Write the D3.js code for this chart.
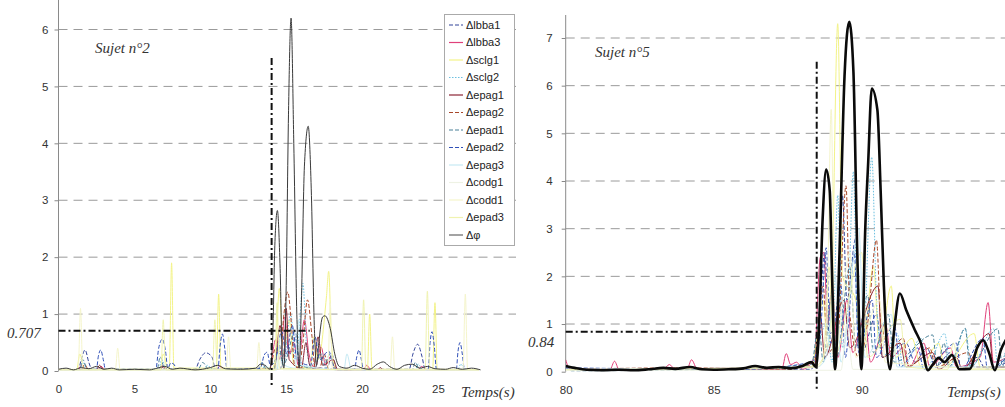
<!DOCTYPE html>
<html><head><meta charset="utf-8">
<script src="https://cdn.jsdelivr.net/npm/d3@7"></script>
<style>
html,body{margin:0;padding:0;background:#fff;}
svg{display:block;}
.tick-lbl{font-family:"Liberation Sans",Arial,sans-serif;font-size:11.5px;fill:#333;}
.ital{font-family:"Liberation Serif","Times New Roman",serif;font-style:italic;fill:#333;}
.leg{font-family:"Liberation Sans",Arial,sans-serif;font-size:11px;fill:#222;}
</style></head>
<body>
<script>
// ---------- series names ----------
const seriesNames = ["Δlbba1","Δlbba3","Δsclg1","Δsclg2","Δepag1","Δepag2","Δepad1","Δepad2","Δepag3","Δcodg1","Δcodd1","Δepad3","Δφ"];

// ---------- ticks ----------
const yTicksLeft = [0,1,2,3,4,5,6];
const yTicksRight = [0,1,2,3,4,5,6,7];
const xTicksLeft = [0,5,10,15,20,25];
const xTicksRight = [80,85,90];

// ---------- annotations (data values) ----------
const thresholdLeft = 0.707, thresholdLeftEnd = 16.55;
const thresholdRight = 0.84, thresholdRightEnd = 88.3;
const onsetLeft = 14.04, onsetLeftTop = 5.5;
const onsetRight = 88.48, onsetRightTop = 6.5;

// ---------- Sujet n°2 (left) : [time, value] ----------
const L_lbba1 = [[0,0.02],[1.3,0.03],[1.5,0.2],[1.75,0.37],[2.0,0.15],[2.2,0.03],[9.0,0.03],[9.3,0.2],[9.7,0.32],[10.1,0.25],[10.35,0.03],[14.6,0.03],[15.0,0.5],[15.3,0.3],[15.6,0.6],[15.9,0.05],[17.7,0.05],[18.0,0.3],[18.3,0.03],[23.1,0.03],[23.35,0.3],[23.66,0.47],[23.95,0.25],[24.15,0.03],[27.7,0.02]];
const L_lbba3 = [[0,0.02],[1.3,0.02],[1.5,0.1],[1.8,0.02],[2.6,0.02],[2.8,0.08],[3.1,0.02],[6.6,0.02],[6.8,0.1],[7.1,0.02],[10.4,0.02],[10.6,0.08],[11,0.02],[13.9,0.02],[14.3,0.55],[14.6,0.2],[14.9,0.95],[15.2,0.3],[15.5,0.5],[15.8,0.1],[16.2,0.9],[16.5,0.3],[16.9,0.05],[17.3,0.42],[17.6,0.1],[17.9,0.25],[18.3,0.02],[20.1,0.02],[20.3,0.1],[20.6,0.02],[23.7,0.02],[23.9,0.08],[24.3,0.02],[27.7,0.02]];
const L_sclg1 = [[0,0.02],[1.2,0.02],[1.4,0.3],[1.7,0.03],[6.7,0.03],[6.9,0.3],[7.2,0.05],[7.3,0.05],[7.45,1.9],[7.6,0.05],[10.4,0.05],[10.55,1.35],[10.7,0.05],[14.1,0.05],[14.3,0.3],[14.55,1.45],[14.8,0.3],[15.2,0.9],[15.5,0.1],[16.6,0.05],[16.8,0.6],[17.1,0.2],[17.65,1.3],[17.8,1.75],[18.0,0.4],[18.3,0.03],[20.35,0.03],[20.5,1.0],[20.65,0.03],[24.65,0.03],[24.8,1.2],[24.95,0.03],[27.7,0.02]];
const L_sclg2 = [[0,0.02],[1.4,0.02],[1.6,0.15],[1.9,0.02],[6.6,0.02],[6.8,0.2],[7.1,0.02],[9.6,0.02],[9.8,0.1],[10.2,0.02],[13.4,0.02],[13.6,0.1],[14.0,0.02],[14.2,0.02],[14.5,0.4],[14.8,0.1],[15.3,1.0],[15.6,0.2],[15.8,0.5],[16.1,1.54],[16.35,0.4],[16.6,0.1],[17.4,0.3],[17.7,0.03],[23.5,0.02],[23.7,0.12],[24,0.02],[26.3,0.02],[26.5,0.12],[26.8,0.02],[27.7,0.02]];
const L_epag1 = [[0,0.02],[2.5,0.02],[2.7,0.1],[3,0.02],[6.7,0.02],[6.9,0.08],[7.2,0.02],[14.2,0.03],[14.6,0.8],[14.85,0.2],[15.0,1.1],[15.2,0.2],[16.0,0.05],[16.3,0.5],[16.55,0.1],[16.8,0.05],[17.1,0.6],[17.4,0.1],[18.1,0.2],[18.4,0.02],[21.0,0.02],[21.2,0.06],[21.4,0.02],[27.7,0.02]];
const L_epag2 = [[0,0.02],[1.5,0.02],[1.7,0.12],[2,0.02],[13.9,0.03],[14.3,0.4],[14.6,0.3],[14.85,1.0],[15.1,1.39],[15.35,0.8],[15.55,0.1],[15.8,0.05],[16.1,0.5],[16.4,1.25],[16.7,0.6],[16.9,0.05],[17.2,0.05],[17.5,0.3],[17.8,0.03],[27.7,0.02]];
const L_epad1 = [[0,0.02],[1.4,0.02],[1.6,0.2],[1.9,0.03],[6.5,0.03],[6.7,0.25],[7,0.03],[9.2,0.03],[9.5,0.15],[9.9,0.03],[13.2,0.03],[13.4,0.15],[13.7,0.03],[14.2,0.03],[14.5,0.5],[14.8,0.1],[15.6,0.7],[15.9,0.1],[16.9,0.05],[17.2,0.3],[17.5,0.1],[17.9,0.3],[18.2,0.02],[23.3,0.02],[23.5,0.15],[23.8,0.02],[27.7,0.02]];
const L_epad2 = [[0,0.01],[2.5,0.03],[2.62,0.25],[2.78,0.37],[2.95,0.2],[3.1,0.02],[6.4,0.02],[6.6,0.4],[6.84,0.56],[7.05,0.35],[7.2,0.05],[7.4,0.14],[7.6,0.12],[7.8,0.02],[10.5,0.03],[10.65,0.45],[10.8,0.65],[10.95,0.4],[11.1,0.03],[13.3,0.05],[13.55,0.28],[13.75,0.33],[13.95,0.1],[14.3,0.2],[14.7,0.7],[15.0,0.3],[15.4,0.8],[15.7,0.2],[16.6,0.1],[16.9,0.6],[17.2,0.2],[17.8,0.35],[18.1,0.1],[18.4,0.02],[19.5,0.03],[19.65,0.25],[19.8,0.37],[19.95,0.2],[20.1,0.02],[24.35,0.03],[24.48,0.5],[24.6,0.69],[24.75,0.45],[24.9,0.03],[26.2,0.02],[26.32,0.35],[26.45,0.5],[26.6,0.3],[26.75,0.02],[27.7,0.02]];
const L_epag3 = [[0,0.02],[14.4,0.02],[14.6,0.6],[14.9,0.1],[15.6,0.05],[15.8,0.9],[16,0.1],[18.8,0.02],[19,0.3],[19.3,0.02],[27.7,0.02]];
const L_codg1 = [[0,0.01],[14.3,0.01],[14.5,0.3],[14.8,0.02],[27.7,0.01]];
const L_codd1 = [[0,0.03],[1.3,0.03],[1.45,1.1],[1.6,0.03],[3.75,0.03],[3.9,0.4],[4.05,0.03],[11.05,0.03],[11.2,0.6],[11.35,0.03],[13.05,0.03],[13.2,0.5],[13.35,0.03],[17.75,0.03],[17.9,1.2],[18.05,0.03],[21.85,0.03],[22,0.6],[22.15,0.03],[26.65,0.03],[26.8,1.35],[26.95,0.03],[27.7,0.02]];
const L_epad3 = [[0,0.02],[6.75,0.02],[6.9,0.9],[7.05,0.02],[10.15,0.02],[10.3,0.9],[10.45,0.02],[14.25,0.02],[14.4,1.2],[14.55,0.05],[19.95,0.02],[20.1,1.25],[20.25,0.02],[24.15,0.02],[24.3,1.4],[24.45,0.02],[27.7,0.02]];
const L_phi = [[0,0.03],[0.5,0.05],[1,0.02],[1.5,0.06],[2,0.04],[2.5,0.08],[3,0.03],[3.5,0.05],[4,0.02],[5,0.03],[6,0.02],[6.5,0.05],[7,0.08],[7.5,0.03],[8,0.05],[9,0.02],[10,0.06],[10.5,0.1],[11,0.04],[12,0.03],[13,0.05],[13.3,0.12],[13.6,0.1],[13.9,0.03],[14.1,0.5],[14.25,2.2],[14.42,2.82],[14.6,1.8],[14.75,0.2],[14.85,0.05],[15.0,1.5],[15.15,4.5],[15.32,6.2],[15.5,4.0],[15.7,1.0],[15.85,0.05],[16.0,1.2],[16.2,3.6],[16.45,4.3],[16.65,3.2],[16.85,0.8],[17.0,0.1],[17.15,0.5],[17.4,0.95],[17.55,0.97],[17.9,0.75],[18.2,0.3],[18.5,0.08],[19,0.05],[19.5,0.1],[20,0.05],[20.5,0.03],[21,0.12],[21.4,0.16],[21.8,0.08],[22.3,0.03],[22.8,0.1],[23.3,0.12],[23.8,0.05],[24.3,0.08],[24.8,0.04],[25.5,0.03],[26,0.06],[26.6,0.03],[27.2,0.05],[27.8,0.02]];

// ---------- Sujet n°5 (right) : [time, value] ----------
const R_lbba1 = [[80,0.05],[88.3,0.05],[88.6,1.5],[88.75,2.5],[88.9,0.8],[89.2,1.0],[89.35,3.7],[89.5,1.5],[89.8,2.8],[90.0,0.4],[90.5,1.2],[90.7,0.3],[91.5,0.6],[91.8,0.2],[92.2,0.5],[92.5,0.1],[93,0.4],[93.3,0.05],[93.9,0.3],[94.2,0.05],[94.9,0.2]];
const R_lbba3 = [[80,0.25],[80.15,0.05],[81.5,0.05],[81.65,0.22],[81.8,0.05],[83.3,0.05],[83.5,0.15],[83.7,0.05],[84.1,0.05],[84.25,0.25],[84.45,0.05],[86.2,0.05],[87.3,0.05],[87.45,0.38],[87.6,0.15],[87.8,0.2],[88.0,0.05],[88.4,0.3],[88.6,2.4],[88.72,2.5],[88.85,1.0],[89.0,1.8],[89.2,0.3],[89.5,1.5],[89.7,0.4],[90.1,1.2],[90.3,0.2],[90.8,1.0],[91.0,0.3],[91.4,0.5],[91.6,0.1],[92.1,0.6],[92.3,0.1],[93.0,0.5],[93.2,0.1],[94.0,0.3],[94.27,1.45],[94.45,0.2],[94.9,0.3]];
const R_sclg1 = [[80,0.05],[85,0.05],[88.3,0.1],[88.7,1.5],[88.85,0.5],[89.0,2.0],[89.19,7.3],[89.35,2.0],[89.8,1.5],[90.0,0.3],[90.4,2.2],[90.6,0.5],[91,1.8],[91.15,0.3],[91.7,0.7],[92,0.1],[92.6,0.6],[92.8,0.1],[93.8,0.8],[94,0.1],[94.9,0.1]];
const R_sclg2 = [[80,0.05],[86,0.05],[88.3,0.1],[88.8,1.0],[89.0,0.2],[89.19,3.7],[89.35,0.5],[89.55,1.5],[89.72,4.2],[89.85,1.0],[90.05,0.5],[90.34,4.5],[90.5,1.5],[90.7,0.3],[91.2,0.8],[91.4,0.1],[92,0.7],[92.2,0.1],[92.8,0.8],[93,0.1],[93.5,0.9],[93.7,0.1],[94.45,0.9],[94.6,0.1],[94.9,0.5]];
const R_epag1 = [[80,0.05],[88.4,0.1],[88.6,1.2],[88.75,0.3],[89.4,1.5],[89.6,0.5],[90.55,1.8],[90.7,0.3],[91.3,0.6],[91.5,0.1],[92.4,0.4],[92.6,0.05],[93.2,0.3],[93.4,0.05],[94.3,0.8],[94.45,0.1],[94.9,0.1]];
const R_epag2 = [[80,0.05],[84,0.08],[87.5,0.05],[88.4,0.2],[88.7,1.8],[88.85,0.4],[89.2,0.8],[89.47,3.9],[89.6,1.2],[89.9,0.3],[90.2,1.0],[90.5,2.76],[90.65,1.0],[91.0,0.5],[91.4,0.7],[91.6,0.1],[92.3,0.5],[92.5,0.1],[93.6,0.4],[93.8,0.1],[94.9,0.1]];
const R_epad1 = [[80,0.1],[80.2,0.02],[85,0.05],[88.3,0.15],[88.55,1.0],[88.7,0.2],[89.0,1.7],[89.15,0.3],[89.6,2.2],[89.8,0.5],[90.2,1.6],[90.4,0.4],[90.9,1.2],[91.1,0.2],[92.4,0.77],[92.55,0.1],[92.78,0.6],[92.95,0.1],[93.5,0.91],[93.65,0.1],[94.6,0.9],[94.75,0.1],[94.9,0.6]];
const R_epad2 = [[80,0.08],[86,0.05],[88.3,0.2],[88.6,0.8],[88.8,2.6],[88.95,0.6],[89.3,1.8],[89.45,0.3],[89.75,2.5],[89.9,0.4],[90.35,1.5],[90.5,0.3],[91.1,1.0],[91.3,0.1],[91.9,0.5],[92.1,0.05],[93.2,0.6],[93.35,0.05],[94.1,0.7],[94.25,0.05],[94.9,0.3]];
const R_epag3 = [[80,0.05],[88.5,0.1],[88.8,0.3],[89.1,2.0],[89.3,0.2],[89.9,3.0],[90.1,0.3],[91.0,1.2],[91.2,0.1],[94.9,0.1]];
const R_codg1 = [[80,0.03],[89.3,0.03],[89.5,1.0],[89.7,0.05],[94.9,0.03]];
const R_codd1 = [[80,0.05],[88.5,0.1],[88.8,0.5],[88.97,5.5],[89.1,0.4],[89.6,2.5],[89.8,0.3],[90.6,1.5],[90.8,0.2],[94.9,0.05]];
const R_epad3 = [[80,0.04],[88.4,0.1],[88.7,0.3],[88.9,2.2],[89.05,0.3],[90.0,2.5],[90.2,0.3],[91.3,1.1],[91.5,0.1],[92.9,0.05],[93.1,0.6],[93.3,0.05],[94.9,0.05]];
const R_phi = [[80,0.12],[80.3,0.08],[80.7,0.04],[81.2,0.03],[81.8,0.04],[82.3,0.03],[82.8,0.05],[83.3,0.08],[83.7,0.06],[84.2,0.1],[84.6,0.05],[85,0.04],[85.5,0.05],[86,0.07],[86.4,0.12],[86.8,0.08],[87.2,0.1],[87.6,0.07],[88.0,0.12],[88.3,0.2],[88.45,0.1],[88.55,0.8],[88.68,3.2],[88.8,4.24],[88.92,3.8],[89.0,2.0],[89.1,0.05],[89.25,2.5],[89.42,6.2],[89.58,7.34],[89.72,6.3],[89.85,2.5],[89.99,0.05],[90.12,3.0],[90.22,4.4],[90.34,5.94],[90.53,5.49],[90.64,3.8],[90.75,1.8],[90.95,0.05],[91.1,0.9],[91.29,1.64],[91.5,1.3],[91.8,0.87],[92.0,0.6],[92.24,0.03],[92.4,0.15],[92.6,0.29],[92.8,0.2],[93.05,0.35],[93.3,0.05],[93.66,0.06],[93.9,0.5],[94.1,0.66],[94.3,0.4],[94.5,0.03],[94.7,0.45],[94.9,0.7]];

const leftData = [L_lbba1,L_lbba3,L_sclg1,L_sclg2,L_epag1,L_epag2,L_epad1,L_epad2,L_epag3,L_codg1,L_codd1,L_epad3,L_phi];
const rightData = [R_lbba1,R_lbba3,R_sclg1,R_sclg2,R_epag1,R_epag2,R_epad1,R_epad2,R_epag3,R_codg1,R_codd1,R_epad3,R_phi];

// ---------- styles ----------
const seriesColors = ["#33449a","#e0407a","#f3f388","#6cc0e0","#8c2434","#a8482a","#4a8098","#3050b8","#c6eaf4","#eef2e4","#f5f5cc","#f0f3b0","#555555"];
const seriesDash = ["4,2","","","1.5,1.5","","4,2","4,2","4,2","","","","",""];

const W = 1005, H = 407;
const svg = d3.select("body").append("svg").attr("width",W).attr("height",H);

function drawChart(cfg){
  const g = svg.append("g");
  const x = d3.scaleLinear().domain(cfg.xDomain).range(cfg.xRange);
  const y = d3.scaleLinear().domain(cfg.yDomain).range(cfg.yRange);
  const clipId = "clip"+cfg.id;
  svg.append("clipPath").attr("id",clipId).append("rect")
    .attr("x",cfg.xRange[0]).attr("y",0).attr("width",cfg.clipRight-cfg.xRange[0]).attr("height",y(0)+2);
  // gridlines
  g.selectAll(".grid").data(cfg.yTicks.filter(d=>d>0)).join("line")
    .attr("x1",cfg.xRange[0]).attr("x2",cfg.gridRight)
    .attr("y1",d=>y(d)).attr("y2",d=>y(d))
    .attr("stroke","#9a9a9a").attr("stroke-width",1).attr("stroke-dasharray","9,6");
  // y axis
  const ya = g.append("g").attr("transform",`translate(${cfg.xRange[0]},0)`)
    .call(d3.axisLeft(y).tickValues(cfg.yTicks).tickSize(4).tickPadding(cfg.tickPad).tickFormat(d3.format("d")));
  ya.select(".domain").remove();
  ya.selectAll(".tick line").attr("stroke","#888");
  ya.selectAll(".tick text").attr("class","tick-lbl").attr("fill",null);
  g.append("line").attr("x1",cfg.xRange[0]).attr("x2",cfg.xRange[0]).attr("y1",cfg.axisTop).attr("y2",y(0))
    .attr("stroke","#8a8a8a").attr("stroke-width",1);
  // x axis labels
  const xa = g.append("g").attr("transform",`translate(0,${y(0)})`)
    .call(d3.axisBottom(x).tickValues(cfg.xTicks).tickSize(0).tickPadding(14).tickFormat(d3.format("d")));
  xa.select(".domain").remove();
  xa.selectAll(".tick text").attr("class","tick-lbl").attr("fill",null);
  // series
  const line = d3.line().x(d=>x(d[0])).y(d=>y(d[1])).curve(d3.curveMonotoneX);
  const dg = g.append("g").attr("clip-path",`url(#${clipId})`);
  cfg.data.forEach((s,i)=>{
    const isPhi = i===cfg.data.length-1;
    dg.append("path").attr("d",line(s)).attr("fill","none")
      .attr("stroke", isPhi ? cfg.phiColor : seriesColors[i])
      .attr("stroke-width", isPhi ? cfg.phiWidth : 1)
      .attr("stroke-linejoin","round")
      .attr("stroke-dasharray", seriesDash[i]||null);
  });
  // threshold & onset lines
  g.append("line").attr("x1",x(cfg.xDomain[0])).attr("x2",x(cfg.thrEnd))
    .attr("y1",y(cfg.thr)).attr("y2",y(cfg.thr))
    .attr("stroke","#111").attr("stroke-width",2).attr("stroke-dasharray","7,3,2,3");
  g.append("line").attr("x1",x(cfg.onset)).attr("x2",x(cfg.onset))
    .attr("y1",y(cfg.onsetTop)).attr("y2",y(0)+17)
    .attr("stroke","#111").attr("stroke-width",2).attr("stroke-dasharray","7,3,2,3");
  // texts
  g.append("text").attr("class","ital").attr("x",cfg.thrLblX).attr("y",cfg.thrLblY)
    .attr("font-size",15).text(cfg.thrLbl);
  g.append("text").attr("class","ital").attr("x",cfg.titleX).attr("y",cfg.titleY)
    .attr("font-size",15).text(cfg.title);
  g.append("text").attr("class","ital").attr("x",cfg.tempsX).attr("y",397)
    .attr("font-size",15).text("Temps(s)");
  return {x,y};
}

drawChart({id:"L", xDomain:[0,25], xRange:[58.5,438], yDomain:[0,6], yRange:[371,29.5],
  yTicks:yTicksLeft, xTicks:xTicksLeft, gridRight:516, clipRight:505, axisTop:0, tickPad:6,
  data:leftData, phiColor:"#3a3a3a", phiWidth:1,
  thr:thresholdLeft, thrEnd:thresholdLeftEnd, onset:onsetLeft, onsetTop:onsetLeftTop,
  thrLbl:"0.707", thrLblX:7, thrLblY:338, title:"Sujet n°2", titleX:95, titleY:53, tempsX:461});

drawChart({id:"R", xDomain:[80,90], xRange:[565.7,861.7], yDomain:[0,7], yRange:[371.7,38],
  yTicks:yTicksRight, xTicks:xTicksRight, gridRight:1005, clipRight:1005, axisTop:15, tickPad:9,
  data:rightData, phiColor:"#0a0a0a", phiWidth:2.6,
  thr:thresholdRight, thrEnd:thresholdRightEnd, onset:onsetRight, onsetTop:onsetRightTop,
  thrLbl:"0.84", thrLblX:528, thrLblY:347, title:"Sujet n°5", titleX:595, titleY:57, tempsX:947});

// ---------- legend ----------
const leg = svg.append("g");
leg.append("rect").attr("x",444.5).attr("y",14.5).attr("width",70).attr("height",231)
  .attr("fill","#fff").attr("stroke","#aaa").attr("stroke-width",1);
seriesNames.forEach((n,i)=>{
  const yy = 25 + i*17.5;
  leg.append("line").attr("x1",449).attr("x2",463).attr("y1",yy).attr("y2",yy)
    .attr("stroke", i===12 ? "#666" : seriesColors[i]).attr("stroke-width",1.2)
    .attr("stroke-dasharray", seriesDash[i]||null);
  leg.append("text").attr("class","leg").attr("x",466).attr("y",yy).attr("dy","0.36em").text(n);
});
</script>
</body></html>
